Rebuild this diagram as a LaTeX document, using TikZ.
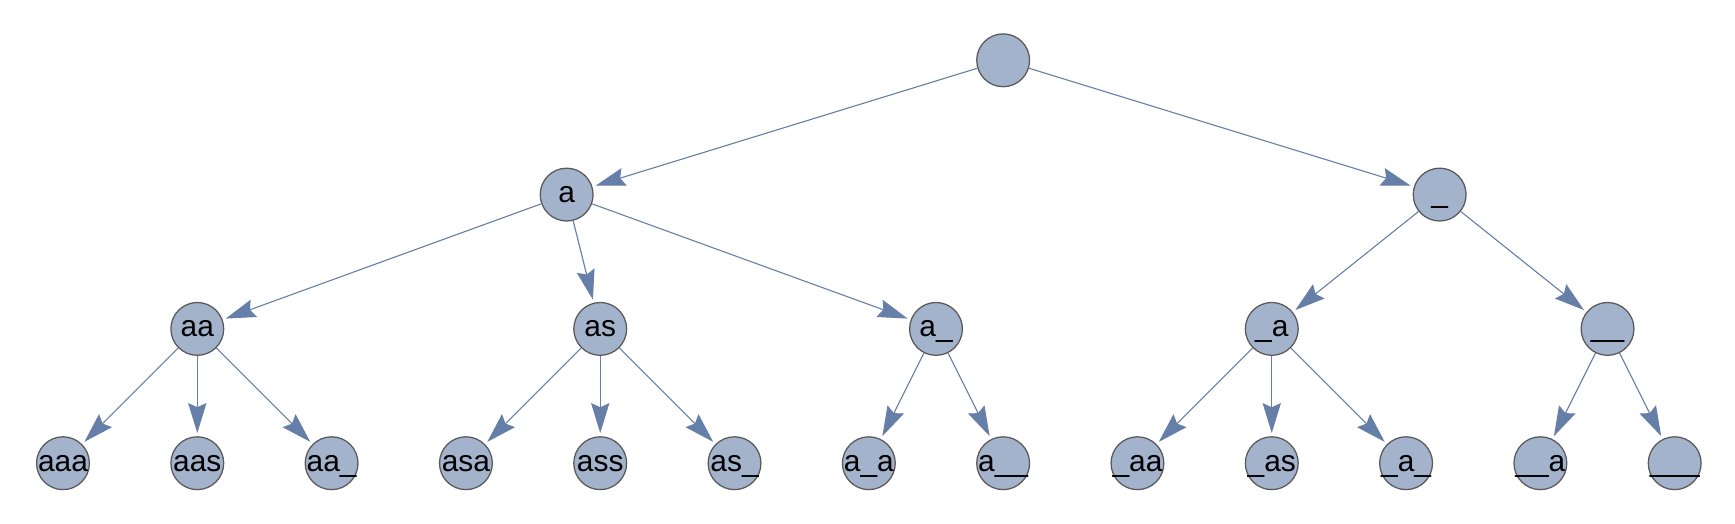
\documentclass[tikz,border=0pt]{standalone}
\usepackage{fontspec}
\setmainfont{Liberation Sans}
\usetikzlibrary{arrows.meta}
\definecolor{vertfill}{RGB}{163,179,204}
\definecolor{edgeblue}{RGB}{102,127,168}
\tikzset{
  vert/.style={circle, draw=black!65, fill=vertfill, line width=0.4pt,
    minimum size=0.59cm, inner sep=0pt, font=\fontsize{9.5}{10}\selectfont,
    text height=5pt, text depth=0pt},
  edge/.style={draw=edgeblue, line width=0.35pt, shorten >=1pt,
    -{Stealth[length=9.5pt,width=5.8pt,inset=1.3pt,fill=edgeblue]}}
}
\begin{document}
\begin{tikzpicture}[x=1.5cm,y=1.5cm]
  \useasboundingbox (-0.469,-0.45) rectangle (12.449,3.449);
  % root and first level
  \node[vert] (r) at (7,3) {};
  \node[vert] (a) at (3.75,2) {a};
  \node[vert] (u) at (10.25,2) {\_};
  % second level
  \node[vert] (aa) at (1,1) {aa};
  \node[vert] (as) at (4,1) {as};
  \node[vert] (au) at (6.5,1) {a\_};
  \node[vert] (ua) at (9,1) {\_a};
  \node[vert] (uu) at (11.5,1) {\_\_};
  % leaves
  \foreach \n/\x/\t in {aaa/0/aaa, aas/1/aas, aau/2/aa\_, asa/3/asa, ass/4/ass,
      asu/5/as\_, aua/6/a\_a, auu/7/a\_\_, uaa/8/\_aa, uas/9/\_as, uau/10/\_a\_,
      uua/11/\_\_a, uuu/12/\_\_\_}
    \node[vert] (\n) at (\x,0) {\t};
  % edges
  \foreach \p/\c in {r/a, r/u, a/aa, a/as, a/au, u/ua, u/uu,
      aa/aaa, aa/aas, aa/aau, as/asa, as/ass, as/asu, au/aua, au/auu,
      ua/uaa, ua/uas, ua/uau, uu/uua, uu/uuu}
    \draw[edge] (\p) -- (\c);
\end{tikzpicture}
\end{document}
